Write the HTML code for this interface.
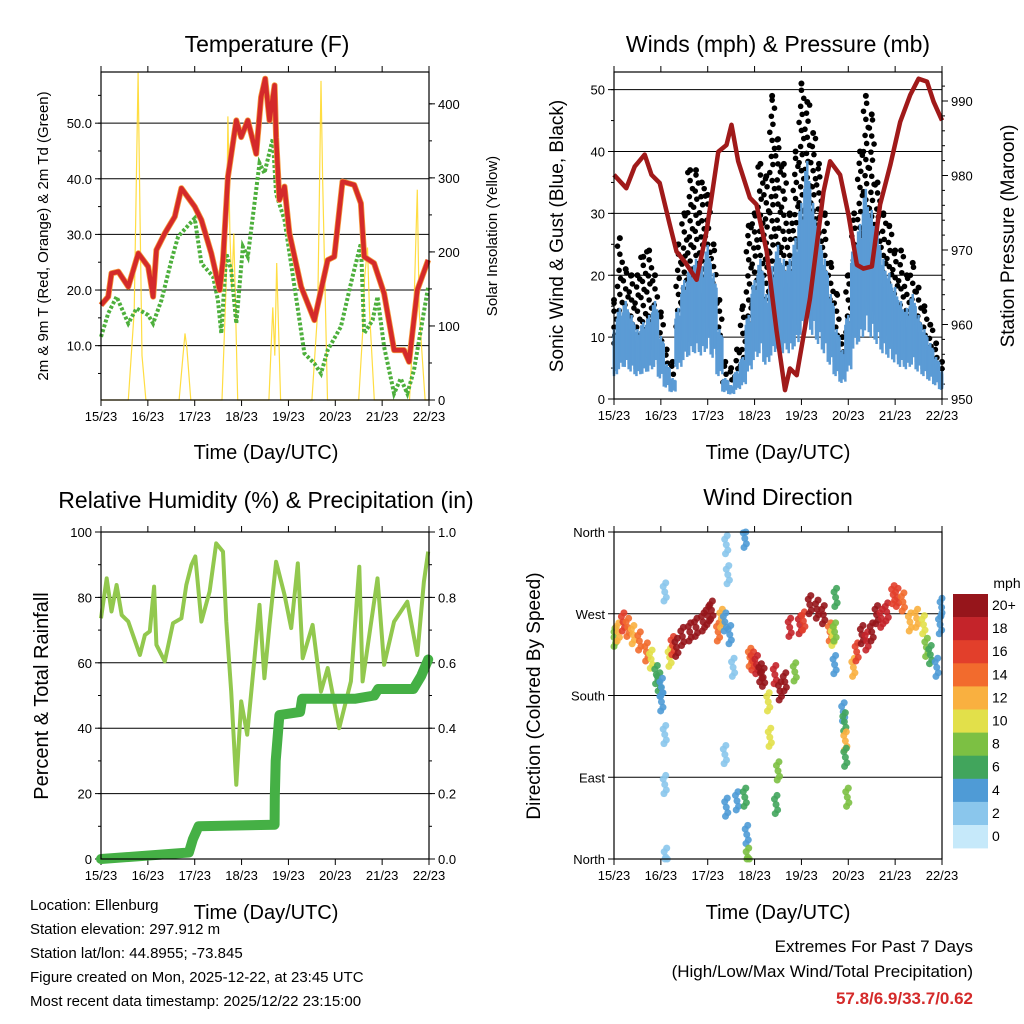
<!DOCTYPE html>
<html><head><meta charset="utf-8"><style>
html,body{margin:0;padding:0;background:#fff}
svg{display:block;font-family:"Liberation Sans",sans-serif}
</style></head><body>
<svg id="chart" width="1024" height="1024" viewBox="0 0 1024 1024">
<rect width="1024" height="1024" fill="#fff"/>
<text x="267" y="52" font-size="23" text-anchor="middle">Temperature (F)</text>
<text x="778" y="52" font-size="23" text-anchor="middle">Winds (mph) &amp; Pressure (mb)</text>
<text x="266" y="508" font-size="23" text-anchor="middle">Relative Humidity (%) &amp; Precipitation (in)</text>
<text x="778" y="505" font-size="23" text-anchor="middle">Wind Direction</text>
<text x="266" y="459" font-size="20" text-anchor="middle">Time (Day/UTC)</text>
<text x="778" y="459" font-size="20" text-anchor="middle">Time (Day/UTC)</text>
<text x="266" y="919" font-size="20" text-anchor="middle">Time (Day/UTC)</text>
<text x="778" y="919" font-size="20" text-anchor="middle">Time (Day/UTC)</text>
<text transform="translate(48,236) rotate(-90)" font-size="15" text-anchor="middle">2m &amp; 9m T (Red, Orange) &amp; 2m Td (Green)</text>
<text transform="translate(497,236) rotate(-90)" font-size="15" text-anchor="middle">Solar Insolation (Yellow)</text>
<text transform="translate(563,236) rotate(-90)" font-size="19" text-anchor="middle">Sonic Wind &amp; Gust (Blue, Black)</text>
<text transform="translate(1014,236) rotate(-90)" font-size="19" text-anchor="middle">Station Pressure (Maroon)</text>
<text transform="translate(48,696) rotate(-90)" font-size="20" text-anchor="middle">Percent &amp; Total Rainfall</text>
<text transform="translate(540,696) rotate(-90)" font-size="19" text-anchor="middle">Direction (Colored By Speed)</text>
<text x="1007" y="588" font-size="14" text-anchor="middle">mph</text>
<g font-size="15">
<text x="30" y="910">Location: Ellenburg</text>
<text x="30" y="934">Station elevation: 297.912 m</text>
<text x="30" y="958">Station lat/lon: 44.8955; -73.845</text>
<text x="30" y="982">Figure created on Mon, 2025-12-22, at 23:45 UTC</text>
<text x="30" y="1006">Most recent data timestamp: 2025/12/22 23:15:00</text>
</g>
<text x="973" y="952" font-size="17" text-anchor="end">Extremes For Past 7 Days</text>
<text x="973" y="977" font-size="17" text-anchor="end">(High/Low/Max Wind/Total Precipitation)</text>
<text x="973" y="1004" font-size="17" font-weight="bold" fill="#d42a2a" text-anchor="end">57.8/6.9/33.7/0.62</text>
</svg>
<script>
// ---------- data ----------
const dayLabels=["15/23","16/23","17/23","18/23","19/23","20/23","21/23","22/23"];
const tempTicks=[10,20,30,40,50];
const tempTickLabels=["10.0","20.0","30.0","40.0","50.0"];
const solarTicks=[0,100,200,300,400];
const windTicks=[0,10,20,30,40,50];
const pressTicks=[950,960,970,980,990];
const rhTicks=[0,20,40,60,80,100];
const precipTicks=[0,0.2,0.4,0.6,0.8,1.0];
const precipTickLabels=["0.0","0.2","0.4","0.6","0.8","1.0"];
const dirTicks=[0,90,180,270,360];
const dirTickLabels=["North","East","South","West","North"];

const tempHours=[0,3.7,5.4,8.9,14,19.1,24.2,26.7,28.4,32.7,37.8,41.2,48,51.4,56.5,60.8,62.5,65,69.3,71.8,75.2,79.5,82,84.1,86.3,88.9,89.7,91.4,94,96.5,102.5,109.3,116.1,119.5,123.7,129.7,133.1,134.8,139.9,145,150.1,155.2,157.8,162,167.6];
const tempVals=[17.3,18.8,23,23.3,20.6,26.6,24.2,18.8,27.2,30.2,33.2,38.3,35,32.6,26.6,20,25.4,40.3,50.5,47.5,50.5,44.5,54.7,58,50.5,56.8,47.5,36.2,38.6,30.2,20.6,14.6,25.4,26,39.5,38.9,35.6,26,24.8,19.4,9.2,9.2,7.1,20,25.4];
const dewHours=[0,3.7,8,14,18.2,24.2,26.7,31,36.1,39.5,48,51.4,57.4,59.9,61.6,64.2,66.7,69.3,72.7,75.2,78.6,81.2,83.7,88,89.7,94,99.1,104.2,109.3,112.7,116.1,122.9,128.8,133.1,134.8,139.1,141.6,145,150.1,153.5,156.9,160.3,167.6];
const dewVals=[11.6,15.8,18.8,14,16.7,15.5,14,18.2,25.4,29.6,32.9,24.8,22.4,18.2,12.2,26.6,23.6,14,27.8,26,35.6,42.8,41,47.2,37.3,32.6,20.6,8.6,6.8,5,9.2,13.4,22.4,28.4,12.2,14.6,18.8,9.8,1.4,4.1,1.4,5.6,20.6];
const insolHours=[0,14,17,19,20,21,23,40,42,43,44,46,62,64,65,66,67,68,70,86,88,89,90,92,108,111,112.7,113.5,116,132,134,135,136.5,137.5,140,158,160,162,163,166,168];
const insolVals=[0,0,120,442,250,60,0,0,60,90,70,0,0,150,383,225,150,225,0,0,125,60,185,0,0,120,431,300,0,0,90,165,206,120,0,0,100,284,120,0,0];

const windHours=[0,3,6,9,12,15,18,21,24,27,30,33,36,39,42,45,48,51,54,57,60,63,66,69,72,75,78,81,84,87,90,93,96,99,102,105,108,111,114,117,120,123,126,129,132,135,138,141,144,147,150,153,156,159,162,165,168];
const windSpeed=[10,13,14,12,10,11,12,14,9,5,3,13,17,19,20,19,22,18,10,3,2,4,6,12,17,20,15,19,22,20,20,23,28,34,28,24,20,15,10,7,12,22,25,30,27,24,20,18,16,14,13,15,12,10,8,6,4];
const windGust=[16,26,21,20,20,23,24,20,14,8,6,25,30,37,37,35,33,25,16,6,5,8,15,28,30,38,36,49,42,38,30,40,51,48,43,38,30,22,17,10,20,30,40,49,46,35,30,28,24,24,20,22,18,15,12,9,6];
const pressHours=[0,6.3,10.6,15.7,19.2,23.4,28.6,32,36.3,42.3,47.4,53.4,57.6,60.2,63.6,69.6,73,78.2,83.3,87.6,90.1,93.6,100.4,107.3,110.7,115.8,120.1,124.4,127.8,132.1,136.3,141.5,146.6,151.7,156,160.3,163.7,168];
const pressVals=[980.1,978.3,981.2,982.8,980.1,979,973.4,969.8,968.4,966,972.5,983.2,984.1,986.8,981.9,977,976.1,969.8,959.1,951.2,954.1,953.2,963.5,977.8,981.9,980.1,974.7,968,967.5,967.8,976.1,981.4,987.2,990.8,993,992.6,989.9,987.4];

const rhHours=[0,2.9,5.4,8,10.6,14,19.9,22.5,25,27.2,28.4,32.7,36.9,41.2,43.7,46.3,48.3,51.4,55.6,59,62.5,64.2,66.7,69.3,71.8,74.9,78.6,81.2,83.7,86.3,89.7,94,97.4,100.8,103.3,108.4,112.7,116.1,122,128,132.3,134,141.6,145,150.1,156.9,162,165.4,167.6];
const rhVals=[73.6,85.8,75.7,83.8,74.6,72.6,62.4,68.5,69.6,83.3,65.5,60.4,72.1,73.6,83.8,89.9,92.5,72.6,81.8,96.5,94,72.6,51.2,22.7,48.2,38,61.4,77.7,55.3,71.6,90.9,80.8,70.6,90.4,61.4,71.6,51.2,58.4,40,54.3,89.4,54.3,85.8,59.4,72.6,78.7,62.4,84.8,94];
const precipHours=[0,45,47,50,88.9,89,89.5,91.4,102,103,130,140,142,160,164,167.6];
const precipVals=[0,0.02,0.06,0.10,0.105,0.19,0.30,0.44,0.45,0.49,0.49,0.50,0.52,0.52,0.56,0.61];

const dirHours=[0,2,4.6,7,9.7,13,16.6,19,21.7,23,24.3,24.3,26,26,26.5,26,28.5,30,32,35,38.8,42,45.6,48,49.9,53.3,55,56.8,59.3,61,57.5,58.3,56.8,57.5,63,67,67,68,68.5,69.6,71,73,75,76.4,79,79.8,82.4,85,87.5,84,83,92.6,90,95.2,97,100.3,104,107.2,110.6,112,113,113.5,113,117.4,118,118.5,118.5,119.5,122.6,124.3,127,129.4,132,134.5,137,139.7,143,145,148,151.6,155,158.5,160,162,165.3,167,167.8];
const dirVals=[244,250,261,255,247,240,228,220,203,195,189,173,137,82,2,294,222,235,233,245,250,255,261,268,274,250,265,261,247,211,346,313,115,57,64,353,68,27,2,222,218,214,205,200,173,134,203,185,195,97,60,206,255,258,262,280,275,269,250,245,250,288,214,162,151,130,112,68,211,228,247,240,250,269,265,272,291,288,283,261,265,258,233,225,211,258,277];
const dirSpeed=[8,12,16,14,12,13,13,10,6,5,4,3,2,2,1,2,9,16,20,19,19,20,20,19,20,13,12,3,4,2,1,2,2,3,4,4,6,4,7,13,16,18,20,20,10,10,18,20,19,7,6,8,18,17,16,20,19,19,13,10,8,6,4,4,6,12,6,7,12,15,19,18,20,19,18,18,16,15,13,12,11,9,7,6,4,4,3];

const speedColors=["#c6e9fa","#8ac6ec","#4f9bd6","#41a55c","#7cc043","#e2e04a","#f9b040","#f26b2d","#e23f2b","#c4242a","#96151b"];
const speedLabels=["0","2","4","6","8","10","12","14","16","18","20+"];

// ---------- helpers ----------
const NS="http://www.w3.org/2000/svg";
const svg=document.getElementById("chart");
function mk(tag,attrs,parent){const e=document.createElementNS(NS,tag);for(const k in attrs)e.setAttribute(k,attrs[k]);(parent||svg).appendChild(e);return e;}
function lin(d0,d1,r0,r1){return v=>r0+(v-d0)/(d1-d0)*(r1-r0);}
function pts(xs,ys,fx,fy){return xs.map((t,i)=>fx(t).toFixed(1)+","+fy(ys[i]).toFixed(1)).join(" ");}
function clampT(t){return Math.min(168,Math.max(0,t));}

function panel(name,x0,x1,y0,y1,yl,ylTicks,ylLabels,yr,yrTicks,yrLabels,grid,minorL,minorR){
  const g=mk("g",{});
  
  
  const fx=lin(0,168,x0,x1);
  for(let d=0;d<8;d++){
    const x=fx(d*24);
    const tk=mk("line",{x1:x,x2:x,y1:y1,y2:y1+6,stroke:"#000","stroke-width":1},g);
    
    
    const tt=mk("line",{x1:x,x2:x,y1:y0,y2:y0-6,stroke:"#000","stroke-width":1},g);
    
    
    const lb=mk("text",{x:x,y:y1+21,"font-size":13,"text-anchor":"middle"},g);
    
    
    lb.textContent=dayLabels[d];
  }
  ylTicks.forEach((v,i)=>{
    const y=yl(v);
    if(grid && y>y0+1 && y<y1-1){
      const gl=mk("line",{x1:x0,x2:x1,y1:y,y2:y,stroke:"#000","stroke-width":1},g);
      
      
    }
    const tk=mk("line",{x1:x0-6,x2:x0,y1:y,y2:y,stroke:"#000"},g);
    
    
    const lb=mk("text",{x:x0-9,y:y+5,"font-size":13,"text-anchor":"end"},g);
    
    
    lb.textContent=ylLabels[i];
  });
  if(minorL){minorL.forEach(v=>{const y=yl(v);if(y>=y0&&y<=y1){const m=mk("line",{x1:x0-3,x2:x0,y1:y,y2:y,stroke:"#000"},g);}});}
  if(yr){
    yrTicks.forEach((v,i)=>{
      const y=yr(v);
      const tk=mk("line",{x1:x1,x2:x1+6,y1:y,y2:y,stroke:"#000"},g);
      
      
      const lb=mk("text",{x:x1+9,y:y+5,"font-size":13,"text-anchor":"start"},g);
      
      
      lb.textContent=yrLabels[i];
    });
    if(minorR){minorR.forEach(v=>{const y=yr(v);if(y>=y0&&y<=y1){const m=mk("line",{x1:x1,x2:x1+3,y1:y,y2:y,stroke:"#000"},g);}});}
  }
  return fx;
}
function frame(name,x0,x1,y0,y1){
  const r=mk("rect",{x:x0,y:y0,width:x1-x0,height:y1-y0,fill:"none",stroke:"#000","stroke-width":1.2});
  
  
}
function range(a,b,s){const o=[];for(let v=a;v<=b+1e-9;v+=s)o.push(+v.toFixed(3));return o;}

// ---------- Temperature panel ----------
(function(){
  const x0=101,x1=429,y0=72,y1=400;
  const fy=lin(0.23,59.2,y1,y0), fs=lin(0,443,y1,y0);
  const fx=panel("temperature",x0,x1,y0,y1,fy,tempTicks,tempTickLabels,fs,solarTicks,solarTicks.map(String),true,range(5,55,5),range(50,400,50));
  const sol=mk("polyline",{points:pts(insolHours,insolVals,fx,fs),fill:"none",stroke:"#ffd92e","stroke-width":1.2,"stroke-opacity":0.9});
  
  
  const dew=mk("polyline",{points:pts(dewHours,dewVals,fx,fy),fill:"none",stroke:"#4daf3c","stroke-width":4,"stroke-dasharray":"3 2"});
  
  
  const t9=mk("polyline",{points:pts(tempHours,tempVals,fx,fy),fill:"none",stroke:"#f59a3c","stroke-width":6,"stroke-linejoin":"round"});
  
  
  const t2=mk("polyline",{points:pts(tempHours,tempVals,fx,fy),fill:"none",stroke:"#d42a2a","stroke-width":4.5,"stroke-linejoin":"round"});
  
  
  frame("temperature",x0,x1,y0,y1);
})();

// ---------- Winds panel ----------
(function(){
  const x0=614,x1=942,y0=72,y1=399;
  const fy=lin(0,52.85,y1,y0), fp=lin(950,990,399,101);
  const fx=panel("winds",x0,x1,y0,y1,fy,windTicks,windTicks.map(String),fp,pressTicks,pressTicks.map(String),true,range(5,50,5),range(952,992,2));
  const gg=mk("g",{fill:"#000"});
  
  
  const offs=[-1.2,0.4,-0.4,1.2,0];
  windHours.forEach((t,i)=>{
    let k=0;
    for(let v=windSpeed[i]*0.9;v<=windGust[i];v+=1.3){
      const c=mk("circle",{cx:fx(clampT(t+offs[k%5])),cy:fy(v),r:2.8},gg);
      
      
      k++;
    }
    const c=mk("circle",{cx:fx(t),cy:fy(windGust[i]),r:3},gg);
    
    
  });
  const bg=mk("g",{stroke:"#5b9bd5","stroke-width":2.5});
  
  
  const wob=[0,0.7,-0.5,1.1,-0.8,0.3];
  windHours.forEach((t,i)=>{
    for(let j=-1.5;j<1.6;j+=0.5){
      const tt=clampT(t+j);
      const top=windSpeed[i]*(1+0.12*wob[Math.round((j+1.5)*2)%6]);
      const bot=windSpeed[i]*(0.45+0.1*wob[Math.round((j+1.5)*2+2)%6]);
      const l=mk("line",{x1:fx(tt),x2:fx(tt),y1:fy(bot),y2:fy(top)},bg);
      
      
    }
  });
  const pl=mk("polyline",{points:pts(pressHours,pressVals,fx,fp),fill:"none",stroke:"#a01a1a","stroke-width":4.5,"stroke-linejoin":"round"});
  
  
  frame("winds",x0,x1,y0,y1);
})();

// ---------- Humidity panel ----------
(function(){
  const x0=101,x1=429,y0=532,y1=859;
  const fy=lin(0,100,y1,y0), fr=lin(0,1,y1,y0);
  const fx=panel("humidity",x0,x1,y0,y1,fy,rhTicks,rhTicks.map(String),fr,precipTicks,precipTickLabels,true,range(10,90,10),range(0.1,0.9,0.1));
  const rh=mk("polyline",{points:pts(rhHours,rhVals,fx,fy),fill:"none",stroke:"#92c84e","stroke-width":4,"stroke-linejoin":"round"});
  
  
  const pr=mk("polyline",{points:pts(precipHours,precipVals,fx,fr),fill:"none",stroke:"#45b045","stroke-width":10,"stroke-linejoin":"round","stroke-linecap":"round"});
  
  
  frame("humidity",x0,x1,y0,y1);
})();

// ---------- Wind direction panel ----------
(function(){
  const x0=614,x1=942,y0=532,y1=859;
  const fy=lin(0,360,y1,y0);
  const fx=panel("direction",x0,x1,y0,y1,fy,dirTicks,dirTickLabels,null,null,null,true,null,null);
  const g=mk("g",{"fill-opacity":0.9});
  
  
  const cl=[[0,0],[-0.8,6],[0.8,-6],[-0.4,-10],[0.5,10]];
  dirHours.forEach((t,i)=>{
    const ci=Math.min(10,Math.round(dirSpeed[i]/2));
    cl.forEach(o=>{
      const c=mk("circle",{cx:fx(clampT(t+o[0])),cy:fy(Math.max(0,Math.min(360,dirVals[i]+o[1]))),r:3.5,fill:speedColors[ci]},g);
      
      
    });
  });
  frame("direction",x0,x1,y0,y1);
  const cb=mk("g",{});
  
  
  const top=594,h=23.1;
  for(let k=0;k<11;k++){
    const idx=10-k;
    const r=mk("rect",{x:953,y:top+k*h,width:35,height:h+0.3,fill:speedColors[idx]},cb);
    
    
    const t=mk("text",{x:992,y:top+k*h+16,"font-size":14},cb);
    
    
    t.textContent=speedLabels[idx];
  }
})();
</script>
</body></html>
